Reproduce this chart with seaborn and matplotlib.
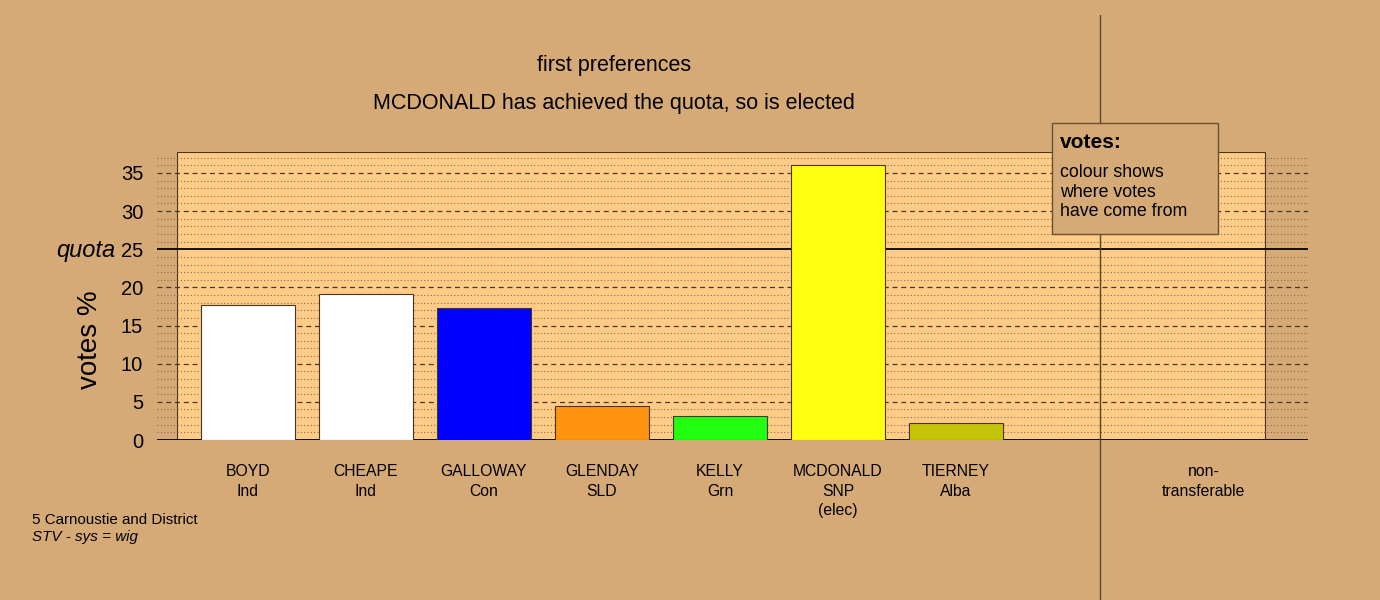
import pandas as pd
import seaborn as sns
import matplotlib.pyplot as plt
from matplotlib.patches import Rectangle

# ---------------- data ----------------
names = ["BOYD", "CHEAPE", "GALLOWAY", "GLENDAY", "KELLY", "MCDONALD", "TIERNEY"]
parties = ["Ind", "Ind", "Con", "SLD", "Grn", "SNP\n(elec)", "Alba"]
votes = [17.7, 19.1, 17.3, 4.5, 3.2, 36.0, 2.2]
bar_colours = ["#FFFFFF", "#FFFFFF", "#0000FF", "#FF9410", "#22FF11", "#FFFF11", "#C4C40A"]
quota = 25
y_ticks = [0, 5, 10, 15, 20, 25, 30, 35]

title1 = "first preferences"
title2 = "MCDONALD has achieved the quota, so is elected"
ward = "5 Carnoustie and District"
system = "STV - sys = wig"

BG = "#D5AA77"
BOX = "#FFCC88"
DARK = "#4a3520"

sns.set_theme(style="white")
plt.rcParams["font.family"] = ["Liberation Sans", "DejaVu Sans"]
plt.rcParams["text.color"] = "black"
plt.rcParams["ytick.labelcolor"] = "black"

df = pd.DataFrame({"name": names, "votes": votes})

fig = plt.figure(figsize=(13.8, 6), dpi=100, facecolor=BG)
ax = fig.add_axes([157 / 1380, 160 / 600, 1151 / 1380, 288 / 600])
ax.set_facecolor(BG)

sns.barplot(data=df, x="name", y="votes", hue="name", palette=bar_colours,
            legend=False, width=0.8, edgecolor=DARK, linewidth=0.8,
            saturation=1, ax=ax, zorder=3)

ax.set_xlim(-0.771, 8.983)
ax.set_ylim(0, 37.75)
for s in ax.spines.values():
    s.set_visible(False)

# light plotting box
ax.add_patch(Rectangle((-0.6, 0), 9.22, 37.75, facecolor=BOX, edgecolor=DARK,
                       linewidth=0.8, zorder=0))

# grid: dotted every unit, dashed every 5, solid at 0 and quota
for v in range(0, 38):
    if v in (0, quota):
        ax.axhline(v, color="black", linewidth=1.3, zorder=2)
    elif v % 5 == 0:
        ax.axhline(v, color=DARK, linewidth=0.9, linestyle=(0, (4, 3)), zorder=1)
    else:
        ax.axhline(v, color="#8a6e4e", linewidth=0.8, linestyle=(0, (1, 2)), zorder=1)

# separator for non-transferable
ax.axvline(7.22, ymin=-0.556, ymax=1.476, color="#5a4530", linewidth=1,
           clip_on=False, zorder=4)

# axes text
ax.set_yticks(y_ticks)
ax.set_yticklabels([str(t) for t in y_ticks], fontsize=14.5)
ax.tick_params(axis="y", length=0, pad=10)
ax.set_ylabel("")
ax.set_xlabel("")
ax.set_xticks([])
fig.text(115 / 1380, 1 - 250 / 600, "quota", fontsize=17, style="italic",
         ha="right", va="center")

for i, (n, p) in enumerate(zip(names, parties)):
    ax.text(i, -3.2, n + "\n" + p, ha="center", va="top", fontsize=11.3,
            linespacing=1.35)
ax.text(8.1, -3.2, "non-\ntransferable", ha="center", va="top", fontsize=11.3,
        linespacing=1.35)

fig.text(90 / 1380, 1 - 340 / 600, "votes %", rotation=90, fontsize=20,
         ha="center", va="center")

fig.text(614 / 1380, 1 - 65 / 600, title1, ha="center", va="center", fontsize=15.5)
fig.text(614 / 1380, 1 - 103 / 600, title2, ha="center", va="center", fontsize=15.5)

fig.text(32 / 1380, 1 - 520 / 600, ward, ha="left", va="center", fontsize=10.9)
fig.text(32 / 1380, 1 - 537 / 600, system, ha="left", va="center", fontsize=10.9,
         style="italic")

# legend-like note box
fig.patches.append(Rectangle((1052 / 1380, 1 - 234 / 600), 166 / 1380, 111 / 600,
                             transform=fig.transFigure, facecolor=BG,
                             edgecolor="#6b5030", linewidth=1, zorder=5))
fig.text(1060 / 1380, 1 - 142 / 600, "votes:", fontsize=15, fontweight="bold",
         ha="left", va="center", zorder=6)
fig.text(1060 / 1380, 1 - 164 / 600, "colour shows\nwhere votes\nhave come from",
         fontsize=12.8, ha="left", va="top", linespacing=1.2, zorder=6)

fig.savefig("out.png", dpi=100, facecolor=BG)
